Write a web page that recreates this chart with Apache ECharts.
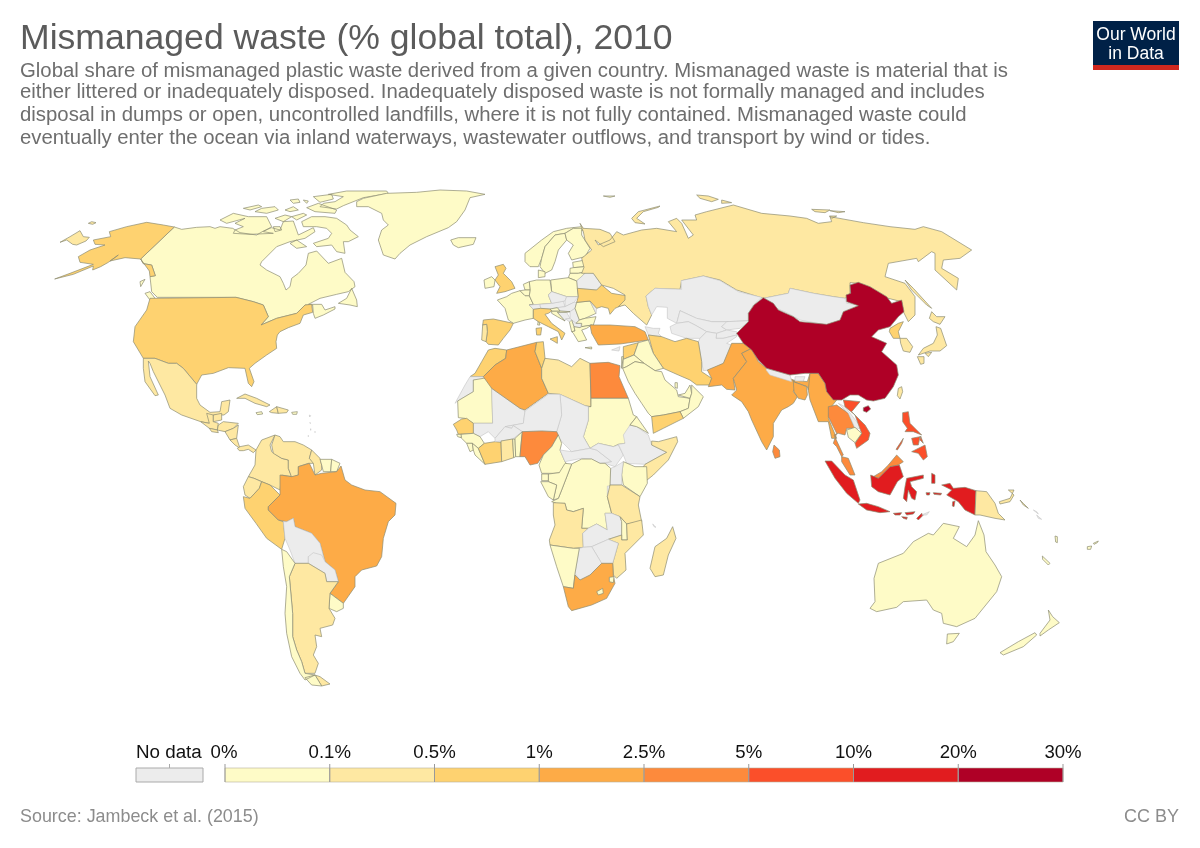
<!DOCTYPE html>
<html><head><meta charset="utf-8">
<script src="https://cdn.jsdelivr.net/npm/echarts@6/dist/echarts.min.js"></script>
<style>html,body{margin:0;padding:0;background:#fff}#c{width:1200px;height:848px}</style></head>
<body><div id="c"></div>
<script>
// ---------- data ----------
const COUNTRIES = ['China','Indonesia','Philippines','Vietnam','Sri Lanka','Thailand','Egypt','Malaysia','Nigeria','Bangladesh','South Africa','India','Algeria','Turkey','Pakistan','Brazil','Myanmar','Morocco','North Korea','United States','Yemen','Iran','Peru','Senegal','Ivory Coast','Syria','Spain','Italy','United Kingdom','Ukraine','Tunisia','Russia','Mexico','Colombia','Venezuela','Ecuador','Guyana','Argentina','Libya','Madagascar','Mozambique','Tanzania','Angola','Somalia','Papua New Guinea','Portugal','South Korea','Japan','Cuba','Haiti','Dominican Republic','Guatemala','Honduras','Nicaragua','Costa Rica','Panama','El Salvador','Belize','Ghana','Taiwan','Canada','Greenland','Iceland','Norway','Sweden','Finland','Denmark','Poland','Germany','Netherlands','Belgium','France','Ireland','Estonia','Latvia','Lithuania','Australia','New Zealand','Suriname','French Guiana','Uruguay','Chile','Mauritania','Iraq','Saudi Arabia','Oman','Jordan','Israel','Sudan','Kenya','Gabon','Congo','DR Congo','Cameroon','Namibia','Guinea','Sierra Leone','Liberia','Guinea-Bissau','Togo','Benin','Eritrea','Equatorial Guinea','Malawi','Lesotho','Swaziland','Cambodia','Romania','Bulgaria','Greece','Croatia','Slovenia','Albania','Puerto Rico','Jamaica','UAE','Qatar','New Caledonia','Fiji','Vanuatu'];
const VALUES = [27.7,10.1,5.9,5.8,4.9,3.2,3.0,2.9,2.7,2.4,2.0,1.9,1.6,1.5,1.5,1.5,1.4,0.9,0.9,0.9,0.8,0.8,0.6,0.6,0.7,0.6,0.6,0.6,0.6,0.6,0.5,0.4,0.4,0.4,0.3,0.3,0.1,0.4,0.2,0.4,0.4,0.4,0.4,0.4,0.3,0.3,0.3,0.4,0.3,0.2,0.3,0.3,0.2,0.2,0.1,0.1,0.2,0.1,0.4,0.3,0.03,0.01,0.01,0.01,0.02,0.01,0.02,0.03,0.05,0.04,0.02,0.08,0.02,0.01,0.01,0.01,0.04,0.02,0.01,0.01,0.07,0.08,0.04,0.09,0.09,0.02,0.02,0.03,0.09,0.09,0.02,0.03,0.08,0.09,0.02,0.09,0.05,0.03,0.01,0.03,0.06,0.02,0.01,0.06,0.01,0.01,0.09,0.09,0.08,0.09,0.03,0.01,0.04,0.09,0.03,0.05,0.03,0.02,0.02,0.01];
const BIN_LIMITS = [0,0.1,0.5,1,2.5,5,10,20,30];
const BIN_LABELS = ['0%','0.1%','0.5%','1%','2.5%','5%','10%','20%','30%'];
const BIN_COLORS = ['#FEFBC7','#FEE8A2','#FED270','#FDAB47','#FD8A3C','#FB4F2A','#E11C1F','#AF0026'];
const TITLE = 'Mismanaged waste (% global total), 2010';
const SUBTITLE = ['Global share of mismanaged plastic waste derived from a given country. Mismanaged waste is material that is','either littered or inadequately disposed. Inadequately disposed waste is not formally managed and includes','disposal in dumps or open, uncontrolled landfills, where it is not fully contained. Mismanaged waste could','eventually enter the ocean via inland waterways, wastewater outflows, and transport by wind or tides.'];
const SOURCE = 'Source: Jambeck et al. (2015)';
const LICENSE = 'CC BY';

// ---------- base geography: simplified outlines in planar map units, one sheet per region ----------
const A=[50,185],B=[180,380],C=[200,185],D=[470,225],E=[580,190],F=[445,335],G=[520,450],H=[620,300],I=[730,275],J=[810,400],K=[860,510];
const R=(s,p)=>{const o=[];for(let i=0;i<p.length;i+=2)o.push([s[0]+p[i]/3,s[1]+p[i+1]/3]);o.push(o[0]);return o;};
const SHAPES={
'Canada':[R(A,[373,126,395,133,440,127,480,125,495,130,510,125,548,130,570,143,620,150,640,138,665,128,690,135,700,110,730,108,745,150,790,128,795,140,765,160,720,170,680,185,635,230,630,240,650,255,690,275,700,295,708,315,720,305,725,280,745,265,768,240,775,205,800,198,835,235,875,220,885,262,912,290,915,305,895,320,860,328,810,340,775,358,815,358,825,375,855,365,855,372,820,390,795,400,790,385,788,360,765,360,740,385,680,400,633,420,655,395,640,360,610,350,558,337,322,337,305,320,300,275,316,272,305,240,280,236,272,222]),
 R(A,[865,355,890,340,905,310,920,345,922,365,900,360]),R(A,[285,325,300,320,315,340,318,355,300,345]),R(A,[270,290,285,283,272,305]),
 R(C,[305,110,335,95,375,95,410,100,440,120,450,135,475,155,445,170,430,170,435,205,410,200,395,180,350,185,340,175,385,160,395,145,380,130,350,125,310,125]),
 R(C,[60,105,100,85,145,95,200,95,215,125,190,140,220,145,150,148,100,145,105,135,130,125,105,115,135,100,80,115]),
 R(C,[130,70,175,60,185,65,150,75]),R(C,[165,80,185,70,225,65,235,75,200,85]),R(C,[225,100,255,90,275,95,250,110]),R(C,[255,75,280,65,295,75,270,80]),R(C,[270,45,295,42,300,52,280,55]),R(C,[310,45,325,48,320,55]),R(C,[275,95,310,85,320,90,290,105]),R(C,[340,35,395,28,400,42,360,52]),R(C,[320,68,355,55,410,75,405,85,345,80]),R(C,[385,28,440,18,560,18,565,25,490,38,430,62,410,72,360,65,370,55,405,50,430,35]),R(C,[220,125,240,125,245,135,225,140]),R(C,[270,175,290,165,320,185,290,190])],
'United States':[R(A,[558,337,610,350,640,360,655,395,633,420,680,400,740,385,765,360,785,358,788,382,760,390,750,415,715,428,690,440,682,450,678,470,680,490,650,510,615,535,598,550,612,590,605,605,595,595,585,550,535,548,490,565,455,570,440,598,400,550,380,535,355,535,315,520,280,520,250,470,255,425,290,375,300,340]),
 R(A,[373,126,340,120,290,112,230,125,178,140,182,155,130,165,135,178,165,180,120,195,85,215,90,232,130,238,60,265,14,282,70,268,130,243,128,255,152,245,175,232,205,210,180,228,225,218,272,222,280,236,305,240,316,272,300,275,298,258,272,222])],
'Greenland':[R(C,[470,50,490,40,560,25,650,22,720,15,800,18,855,28,810,38,795,75,770,110,745,128,680,155,630,180,600,205,585,222,550,210,535,165,545,135,565,120,550,105,545,85,505,65,470,65])],
'Iceland':[R(C,[752,165,775,158,828,158,820,178,775,188,760,180])],
'Mexico':[R(A,[280,520,315,520,355,535,380,535,400,550,440,598,440,640,450,660,480,682,510,680,515,650,540,645,535,680,522,690,490,690,478,715,452,710,395,690,360,670,345,630,310,560,300,535,295,528,300,575,325,630,315,632,285,590,280,550])],
'Guatemala':[R(B,[62,125,88,145,112,150,115,130,100,125,100,105,80,100,88,130])],'Belize':[R(B,[100,105,125,100,125,120,100,125])],'Honduras':[R(B,[115,135,130,125,175,130,160,145,135,155,112,150])],'Nicaragua':[R(B,[135,155,160,145,175,135,170,175,150,180])],'Costa Rica':[R(B,[150,180,170,175,180,205,165,195])],'Panama':[R(B,[172,205,180,200,205,195,228,210,220,218,205,208,190,212,178,212])],'El Salvador':[R(B,[88,145,112,150,115,158,95,155])],
'Cuba':[R(B,[170,55,195,42,230,55,270,75,260,80,225,70,195,55])],'Haiti':[R(B,[268,95,290,80,295,100,275,98])],'Dominican Republic':[R(B,[290,80,325,90,320,98,295,100])],'Jamaica':[R(B,[228,98,245,95,248,102,232,104])],'Puerto Rico':[R(B,[335,97,352,95,350,103,338,103])],
'Colombia':[R(B,[228,210,245,180,285,165,270,195,275,215,305,235,325,240,325,265,335,290,305,285,300,330,270,315,245,305,222,295,205,290,225,255])],
'Venezuela':[R(B,[285,165,275,195,280,220,305,235,325,240,325,265,335,292,355,285,355,260,385,250,405,250,388,235,395,210,370,195,345,185,310,185,300,170])],
'Guyana':[R(B,[395,210,420,235,425,255,425,270,405,285,400,250,388,235])],'Suriname':[R(B,[420,238,455,238,452,275,430,275,425,255])],'French Guiana':[R(B,[455,238,480,250,470,275,452,275])],
'Ecuador':[R(B,[205,290,222,295,245,305,238,325,210,355,195,345,190,320])],
'Peru':[R(B,[190,350,210,355,238,325,245,305,270,315,300,345,265,380,265,390,295,420,310,425,315,475,305,508,260,475,228,430,195,385])],
'Brazil':[R(B,[300,285,335,290,355,285,355,260,388,250,405,285,425,280,470,275,483,258,495,300,515,315,555,330,600,335,648,370,645,405,625,425,610,475,605,530,590,558,545,570,525,590,525,620,490,670,450,640,475,605,465,570,435,545,420,490,395,460,345,440,340,415,320,425,295,420,265,390,265,380,300,345])],
'Bolivia':[R(B,[320,425,340,415,345,440,395,460,420,490,435,545,385,530,385,550,345,550,330,510,315,475,310,425])],'Paraguay':[R(B,[385,530,400,518,425,525,435,545,465,570,475,605,440,605,435,580,385,550])],
'Uruguay':[R(B,[450,640,490,670,490,685,470,695,447,685])],
'Argentina':[R(B,[345,550,385,550,435,580,440,605,475,605,450,640,447,685,465,715,458,735,420,745,425,770,405,765,410,800,400,825,415,850,405,880,375,880,365,845,350,810,338,770,338,700,328,590]),R(B,[405,885,420,890,450,912,425,918])],
'Chile':[R(B,[305,508,320,515,345,550,328,590,338,700,338,770,350,810,365,845,375,880,405,885,375,900,360,880,335,830,320,760,315,700,320,620,310,560]),R(B,[375,893,405,885,425,918,395,915])],
'Antilles':[R(B,[388,105,392,107,389,111]),R(B,[390,127,393,128,391,131]),R(B,[392,146,395,148,392,151]),R(B,[405,154,408,156,405,158]),R(B,[385,166,388,168,385,170])],
'United Kingdom':[R(D,[75,125,100,118,108,130,100,145,125,170,135,190,105,200,80,205,90,185,75,165,85,150])],'Ireland':[R(D,[42,165,65,155,75,165,72,185,45,190])],
'France':[R(D,[82,225,110,215,125,205,150,197,165,212,178,212,190,238,178,240,190,253,190,280,165,285,130,295,115,285,105,250]),R(D,[205,285,210,300,203,300])],
'Spain':[R(D,[40,285,70,282,130,295,120,315,100,340,85,360,55,358,48,350,52,320,50,298,38,300])],'Portugal':[R(D,[38,300,50,298,52,320,48,350,35,345])],
'Norway':[R(D,[165,85,215,45,250,20,290,10,335,5,350,20,310,10,285,25,255,30,225,65,215,100,205,125,180,125,165,110]),R(E,[70,18,105,18,90,22])],
'Sweden':[R(D,[225,65,255,30,285,25,290,45,265,75,255,110,245,135,225,145,210,125,215,100])],'Finland':[R(D,[290,45,285,25,310,10,335,10,335,30,360,70,345,95,305,105,295,85,310,60])],
'Denmark':[R(D,[205,135,225,140,225,155,205,158])],'Estonia':[R(D,[308,112,345,105,345,125,310,128])],'Latvia':[R(D,[300,130,310,128,345,125,350,140,325,145,300,145])],'Lithuania':[R(D,[300,145,325,145,350,140,340,150,320,168,295,158])],
'Belarus':[R(D,[320,168,340,150,350,140,370,145,395,180,380,195,322,190])],'Poland':[R(D,[242,165,295,158,320,168,322,190,325,215,290,215,245,200])],
'Germany':[R(D,[178,170,200,165,240,165,245,200,235,210,245,235,210,238,178,240,190,238,178,212,180,195])],'Netherlands':[R(D,[160,178,178,170,180,195,165,195])],'Belgium':[R(D,[150,197,165,195,180,195,178,212,165,212])],
'Switzerland':[R(D,[178,240,210,238,212,250,190,253])],'Austria':[R(D,[212,250,210,238,245,235,280,228,285,245,262,248,240,252])],'Czechia':[R(D,[235,210,245,200,290,215,285,228,245,235])],'Slovakia':[R(D,[285,228,290,215,325,215,312,232,285,245])],'Hungary':[R(D,[285,245,312,232,320,232,315,250,300,260,270,258,262,248])],'Serbia':[R(D,[300,260,315,250,328,285,318,295,305,285,300,280])],'Macedonia':[R(D,[305,285,318,295,335,295,330,308,312,305])],'Bosnia':[R(D,[262,262,290,262,300,280,287,282,285,288])],
'Croatia':[R(D,[245,258,270,258,300,260,290,262,262,262,285,288,262,275,245,265])],'Slovenia':[R(D,[240,252,262,248,270,258,245,258])],'Albania':[R(D,[298,290,305,285,312,305,315,318,305,320])],'Montenegro':[R(D,[287,282,300,280,305,285,298,290])],
'Romania':[R(D,[320,232,360,228,378,265,345,280,328,285,315,250])],'Bulgaria':[R(D,[328,285,345,280,378,275,370,300,335,305,335,295,318,295])],'Moldova':[R(D,[360,228,380,250,378,265])],
'Ukraine':[R(D,[322,190,380,195,395,180,425,205,468,212,470,235,435,250,420,268,415,250,395,245,380,250,360,228,320,232,325,215])],
'Italy':[R(D,[190,253,212,250,240,252,245,258,235,265,225,268,245,295,285,325,275,345,265,320,235,305,205,290,190,280]),R(D,[198,310,215,308,212,330,200,330]),R(D,[240,342,262,335,262,355])],
'Greece':[R(D,[305,320,315,318,312,305,330,308,335,305,365,300,350,310,335,315,350,345,325,350,310,325]),R(D,[345,368,365,366,365,372])],
'Cyprus':[R(F,[500,45,525,35,522,48])],
'Russia':[R(E,[0,100,10,115,60,118,90,130,105,155,70,170,45,150,55,165,90,150,110,125,130,135,185,120,230,115,290,125,265,95,290,85,305,100,325,145,340,135,305,90,350,90,345,75,380,65,460,45,545,70,630,78,680,85,715,100,755,95,750,80,850,98,930,110,1005,118,1030,110,1085,125,1175,180,1140,205,1090,210,1085,235,1135,265,1130,300,1065,240,1065,190,1055,185,1015,215,1010,205,925,220,915,260,975,280,1005,320,1005,375,985,395,970,365,965,335,905,320,835,280,810,278,810,315,795,325,760,320,700,310,630,295,625,310,550,325,470,300,420,270,370,258,305,272,300,298,225,295,198,318,205,350,215,375,200,405,160,370,135,345,115,350,135,330,135,315,100,295,65,285,40,250,5,250,12,232,5,205,35,180,15,150,10,125]),
 R(A,[30,172,60,155,90,137,100,155,118,157,108,168,80,180,68,178,50,165]),R(A,[115,115,125,110,138,113,128,118]),
 R(E,[155,85,175,65,240,48,235,52,190,65,170,85,195,102,165,98]),R(E,[350,15,385,18,415,28,395,35,360,25]),R(E,[425,30,455,38,425,40]),R(E,[695,58,750,60,735,68,705,65]),R(E,[750,62,795,65,775,68]),R(E,[748,78,770,78,755,85]),R(E,[975,270,1000,295,1055,355,1040,345,995,300])],
'Kazakhstan':[R(E,[198,318,225,295,305,298,303,272,370,258,420,272,475,305,545,322,520,345,505,370,510,392,440,395,395,395,350,385,300,362,290,400,262,385,262,352,230,350,215,375,205,350])],
'Uzbekistan':[R(E,[290,400,300,362,350,385,395,395,445,395,425,410,440,420,410,430,380,425,345,405,325,395])],'Turkmenistan':[R(E,[270,410,290,400,325,395,345,405,380,425,360,445,320,445,275,430])],'Kyrgyzstan':[R(E,[440,395,510,392,480,415,440,420,425,410])],'Tajikistan':[R(E,[410,430,440,420,470,425,470,435,430,445,408,445])],
'Afghanistan':[R(H,[235,125,240,115,260,95,290,100,288,115,310,115,350,105,350,110,320,130,335,135,330,160,310,190,270,210,250,212,245,185])],
'Mongolia':[R(E,[550,325,625,310,630,295,700,310,760,320,795,325,800,340,840,345,790,368,780,395,740,405,660,390,620,368,590,355])],
'Turkey':[R(E,[30,405,45,405,90,405,165,410,195,425,205,450,120,462,55,465,35,430])],
'Caucasus':[R(H,[75,80,100,85,120,85,115,100,125,110,85,105])],
'Iran':[R(H,[85,105,125,110,165,125,200,115,235,125,245,185,245,215,275,235,270,255,230,255,210,240,175,225,130,205,100,160])],
'Syria':[R(H,[10,140,55,128,42,165,10,178,10,160])],'Iraq':[R(H,[55,128,85,120,100,160,130,205,105,212,72,190,42,165])],'Israel':[R(H,[5,170,10,170,5,205])],'Jordan':[R(H,[10,178,42,165,72,190,45,185,20,200,8,205])],
'Saudi Arabia':[R(H,[8,205,20,200,45,185,72,190,105,212,125,215,135,240,170,270,175,290,210,295,205,325,180,335,130,345,95,350,85,340,65,310,45,280,25,245])],
'UAE':[R(H,[175,285,195,280,210,255,215,280,210,295])],'Qatar':[R(H,[165,248,172,248,172,265,165,262])],'Oman':[R(H,[215,255,250,290,235,320,190,355,180,335,205,325,210,295,215,280])],'Yemen':[R(H,[95,350,130,345,180,335,190,355,130,385,100,400])],
'Pakistan':[R(H,[262,210,310,190,335,130,370,130,395,145,365,160,380,185,340,235,345,270,320,268,305,255,265,260,275,235])],
'India':[R(H,[365,160,395,145,415,185,440,205,520,240,530,250,520,275,532,290,520,310,505,320,485,330,460,370,460,410,440,450,425,425,395,360,385,335,365,305,335,285,350,270,340,235,380,185]),R(I,[188,315,232,320,240,295,265,290,235,345,232,335,190,320])],
'Sri Lanka':[R(H,[462,435,478,450,480,470,465,475,458,455])],
'Nepal':[R(I,[110,280,180,300,185,320,120,300,108,285])],'Bhutan':[R(I,[195,305,225,305,220,318,195,318])],
'Bangladesh':[R(I,[190,320,230,335,232,360,225,375,205,370,192,350])],
'Myanmar':[R(I,[240,295,265,295,285,325,290,350,320,375,300,400,295,430,320,490,305,490,295,440,265,440,240,375,235,345])],
'China':[R(I,[20,175,55,140,55,115,72,90,100,68,130,85,145,105,190,125,210,140,290,148,330,135,340,110,385,92,350,80,348,60,362,55,360,30,385,22,420,35,470,65,485,85,515,75,522,110,505,125,480,155,445,165,425,185,470,205,455,230,500,270,505,300,490,335,465,370,430,378,410,375,385,360,360,360,335,375,310,375,290,350,285,325,265,295,225,295,180,300,110,280,85,255,65,225,40,205]),R(I,[400,398,415,392,422,402,410,412,400,408])],
'Taiwan':[R(I,[505,340,515,335,518,350,510,372,502,362])],'North Korea':[R(I,[480,160,505,145,520,140,505,170,510,190,490,190,478,170])],'South Korea':[R(I,[510,190,530,190,548,215,540,232,520,228,512,205])],
'Japan':[R(I,[605,110,620,125,645,125,630,148,610,140,598,130]),R(I,[618,155,632,160,650,212,630,228,600,228,565,240,580,220,610,205,622,180]),R(I,[562,245,582,245,582,265,572,268]),R(I,[585,235,605,232,595,245])],
'Thailand':[R(J,[55,20,80,15,115,40,135,85,110,85,105,105,85,100,72,105,100,165,95,170,80,140,70,130,80,100,55,50])],
'Laos':[R(J,[85,10,105,20,140,65,155,85,135,85,115,40])],'Vietnam':[R(J,[100,0,150,5,125,35,165,75,180,100,175,120,140,145,135,130,155,100,135,45,105,20])],'Cambodia':[R(J,[110,90,135,82,155,100,135,128,115,112])],
'Malaysia':[R(J,[95,170,115,175,135,225,120,225,95,185]),R(J,[190,230,215,215,235,195,260,165,280,185,265,195,240,200,205,235])],
'Indonesia':[R(J,[182,225,205,235,240,200,268,195,280,230,262,245,240,285,205,275,185,260]),R(J,[45,183,65,183,105,225,130,240,150,300,145,310,110,280,75,235]),R(J,[145,312,170,310,205,320,240,335,210,338,170,330]),R(J,[290,235,340,225,340,235,300,245,305,260,320,275,315,300,305,295,295,270,290,305,280,295,285,260]),R(J,[365,220,375,225,375,250,365,250]),R(J,[348,278,360,278,358,285,350,285]),R(J,[370,278,395,280,392,285,372,283]),R(J,[395,255,420,250,430,265,465,262,498,272,495,345,465,330,445,305,410,285,425,270]),R(J,[320,355,335,340,340,345,325,360]),R(J,[250,340,275,338,270,345,255,345]),R(J,[285,338,315,335,310,342,290,345]),R(J,[275,350,292,352,290,358,280,355]),R(J,[428,305,435,303,432,320,427,318])],
'Timor-Leste':[R(J,[335,345,358,335,350,345])],
'Papua New Guinea':[R(J,[498,272,530,275,555,310,565,340,585,360,555,355,510,345,495,345]),R(J,[568,305,600,295,612,270,595,270,612,285,600,305,570,312]),R(J,[630,300,640,310,655,325,640,315])],
'Philippines':[R(J,[278,38,295,35,300,70,320,90,335,105,310,95,285,95,292,85,278,65]),R(J,[258,148,280,115,275,130,262,150]),R(J,[305,115,330,110,325,135,310,135]),R(J,[332,108,340,130,330,120]),R(J,[305,155,345,135,352,170,340,180,325,160])],
'Australia':[R(K,[30,295,45,275,42,205,55,160,130,130,160,95,205,70,220,75,250,40,298,50,280,85,320,110,345,75,355,32,372,75,378,125,405,165,425,200,410,245,345,325,290,350,250,340,245,310,220,300,200,270,130,275,110,292,50,305]),R(K,[262,372,298,370,280,395,260,402])],
'New Zealand':[R(K,[420,428,475,395,525,368,530,375,490,410,430,435]),R(K,[540,370,570,330,565,300,578,320,598,338,565,360,540,378])],
'New Caledonia':[R(K,[547,138,570,160,565,165,548,148])],'Fiji':[R(K,[682,110,695,108,692,118,682,118]),R(K,[700,100,715,93,712,98,702,103])],'Vanuatu':[R(K,[585,78,592,80,592,98,587,96])],'Solomon Islands':[R(K,[520,0,535,12,530,5]),R(K,[530,15,545,28,535,25])],
'Morocco':[R(F,[185,45,182,70,150,90,115,125,75,125,90,115,110,80,130,45,150,40])],'Western Sahara':[R(F,[75,125,115,125,115,132,85,135,85,170,38,198,30,205,60,150])],
'Mauritania':[R(F,[38,198,85,170,85,135,115,130,140,130,143,265,85,265,60,250,40,248])],
'Mali':[R(F,[140,160,225,220,240,228,235,265,180,275,150,310,130,290,105,305,85,295,85,265,143,265])],
'Algeria':[R(F,[115,125,150,90,182,70,185,45,275,22,270,50,290,100,290,130,310,175,240,225,225,220,140,160])],
'Tunisia':[R(F,[275,22,295,20,300,70,290,100,270,50])],
'Libya':[R(F,[290,100,300,70,340,75,380,95,405,70,435,85,438,215,420,212,345,178,310,175,290,130])],
'Egypt':[R(F,[435,85,490,82,525,92,522,125,550,190,438,190])],
'Sudan':[R(F,[438,190,550,190,565,240,575,245,555,270,540,325,520,328,505,335,460,325,435,340,415,305,430,255,430,215,438,215])],
'Chad':[R(F,[345,178,420,212,430,215,430,255,415,305,435,340,380,350,355,325,335,300,335,290,350,240])],
'Niger':[R(F,[240,228,310,178,345,178,350,240,335,290,290,288,232,290,205,272,200,280,180,275,235,265])],
'Senegal':[R(F,[25,268,50,252,65,250,85,265,85,295,40,298,35,285])],'Guinea-Bissau':[R(F,[35,298,50,298,48,308,38,305])],'Guinea':[R(F,[48,298,85,295,105,305,118,325,100,340,82,325,65,325,50,310])],'Sierra Leone':[R(F,[65,325,82,325,85,345,75,350])],'Liberia':[R(F,[85,345,82,325,100,340,120,388,90,360])],
'Ivory Coast':[R(F,[118,325,150,320,168,322,170,380,120,388,100,340])],'Burkina Faso':[R(F,[150,320,150,310,180,275,200,280,205,272,232,290,203,312,168,318])],'Ghana':[R(F,[168,318,203,312,206,368,170,380])],'Togo':[R(F,[203,312,210,312,212,365,206,368])],'Benin':[R(F,[210,310,232,290,228,330,225,365,212,365])],
'Nigeria':[R(F,[232,290,290,288,335,290,340,300,320,335,295,360,278,385,255,390,240,365,225,365,228,330])],
'Cameroon':[R(F,[340,300,350,325,345,345,360,380,375,400,350,413,325,415,290,415,282,390,295,360,320,335])],
'CAR':[R(F,[345,345,380,350,435,340,455,345,500,380,465,385,440,372,410,370,360,380])],'South Sudan':[R(F,[435,340,460,325,505,335,520,330,535,360,510,395,480,385,500,380,455,345])],'Ethiopia':[R(F,[535,300,555,270,575,275,610,300,620,330,665,352,600,388,545,385,535,360,520,328,540,325])],'Eritrea':[R(F,[555,270,575,245,610,295,585,280,575,275])],
'Somalia':[R(F,[620,318,640,320,695,305,698,320,670,375,625,420,600,440,590,420,595,395,600,388,665,352,620,330])],
'Kenya':[R(G,[310,35,345,50,380,50,382,100,360,140,310,105,305,75])],'Uganda':[R(G,[272,55,285,50,310,35,305,75,305,105,270,105])],
'DR Congo':[R(G,[155,42,185,27,215,27,240,40,255,40,272,55,270,105,262,140,275,190,255,190,262,240,230,222,205,235,185,235,190,175,160,185,140,180,135,160,110,160,95,155,115,145,125,120])],
'Congo':[R(G,[85,72,118,68,135,40,155,42,125,120,115,145,100,150,110,105,85,95])],'Gabon':[R(G,[62,95,85,95,110,105,100,150,85,140])],'Equatorial Guinea':[R(G,[65,72,85,72,85,92,65,92])],'Rwanda':[R(G,[262,108,278,108,278,140,262,140])],
'Tanzania':[R(G,[270,105,305,105,360,140,355,165,365,215,320,222,300,200,275,190,262,140])],
'Angola':[R(G,[100,158,135,160,140,180,160,185,190,175,185,235,205,235,188,250,190,292,160,295,90,285,88,270,105,225,100,195])],
'Zambia':[R(G,[188,250,205,235,230,222,262,240,255,190,275,190,300,200,305,215,305,255,265,268,215,290,190,292])],'Malawi':[R(G,[300,200,320,222,322,270,305,270,305,255,305,215])],
'Mozambique':[R(G,[365,210,370,255,340,285,315,310,318,360,290,385,280,375,278,340,295,280,265,268,305,255,305,270,322,270,320,222])],
'Zimbabwe':[R(G,[215,290,265,268,295,280,278,340,245,340])],'Botswana':[R(G,[178,295,190,292,215,290,245,340,210,375,180,390,165,370])],'Namibia':[R(G,[90,285,160,295,178,295,165,370,160,415,130,410,110,350])],
'South Africa':[R(G,[160,415,165,375,180,390,210,375,245,340,278,340,280,378,285,400,260,445,215,465,155,482,145,470,130,410])],
'Lesotho':[R(G,[230,425,248,415,250,430,235,435])],'Swaziland':[R(G,[268,382,282,380,280,398,268,395])],
'Madagascar':[R(G,[458,230,468,265,445,315,430,375,405,380,390,355,405,290,440,265])],'Comoros':[R(G,[398,222,408,232,402,230])]
};
const geojson={type:'FeatureCollection',features:Object.keys(SHAPES).map(n=>({type:'Feature',properties:{name:n},geometry:{type:'MultiPolygon',coordinates:SHAPES[n].map(r=>[r])}}))};
echarts.registerMap('world',geojson);
let x0=1e9,y0=1e9,x1=-1e9,y1=-1e9;
Object.values(SHAPES).flat(2).forEach(p=>{x0=Math.min(x0,p[0]);x1=Math.max(x1,p[0]);y0=Math.min(y0,p[1]);y1=Math.max(y1,p[1]);});

// ---------- legend + text ----------
const LX=225,LW=104.75,LY=768,LH=14;
const g=[];
const txt=(t,x,y,s,c,a)=>g.push({type:'text',silent:true,style:{text:t,x,y,font:s+'px "Liberation Sans",Arial,sans-serif',fill:c,align:a||'left',verticalAlign:'middle'}});
txt(TITLE,20,39,35.6,'#5b5b5b');
SUBTITLE.forEach((l,i)=>txt(l,20,[71,92,115,138][i],20.35,'#6e6e6e'));
g.push({type:'rect',shape:{x:1093,y:21,width:86,height:49},style:{fill:'#002147'}});
g.push({type:'rect',shape:{x:1093,y:65,width:86,height:5},style:{fill:'#D0281F'}});
txt('Our World',1136,35,17.5,'#fff','center');txt('in Data',1136,54,17.5,'#fff','center');
txt('No data',136,753,18.8,'#111');
g.push({type:'rect',shape:{x:136,y:LY,width:67,height:LH},style:{fill:'#ECECEC',stroke:'#aaa',lineWidth:1}});
g.push({type:'line',shape:{x1:169.5,y1:764,x2:169.5,y2:768},style:{stroke:'#aaa'}});
BIN_COLORS.forEach((c,i)=>g.push({type:'rect',shape:{x:LX+i*LW,y:LY,width:LW,height:LH},style:{fill:c,stroke:'#b5b09a',lineWidth:.6}}));
BIN_LABELS.forEach((l,i)=>{const x=LX+i*LW;g.push({type:'line',shape:{x1:x,y1:764,x2:x,y2:LY+LH},style:{stroke:'#999',lineWidth:1}});txt(l,i===0?224:x,753,18.6,'#111','center');});
txt(SOURCE,20,817,17.9,'#8c8c8c');txt(LICENSE,1179,817,18,'#8c8c8c','right');

const chart=echarts.init(document.getElementById('c'),null,{renderer:'canvas'});
chart.setOption({
 animation:false,backgroundColor:'#fff',
 visualMap:{show:false,type:'piecewise',seriesIndex:0,pieces:BIN_COLORS.map((c,i)=>({gte:BIN_LIMITS[i],lt:BIN_LIMITS[i+1],color:c}))},
 graphic:g,
 series:[{type:'map',map:'world',silent:true,roam:false,projection:{project:p=>p,unproject:p=>p},
  left:x0,top:y0,width:x1-x0,height:y1-y0,
  itemStyle:{areaColor:'#ECECEC',borderColor:'#c4c4c4',borderWidth:.6},
  label:{show:false},emphasis:{disabled:true},select:{disabled:true},
  data:COUNTRIES.map((n,i)=>({name:n,value:VALUES[i],itemStyle:{borderColor:'#8d8d72',borderWidth:.7}}))}]
});
</script></body></html>
